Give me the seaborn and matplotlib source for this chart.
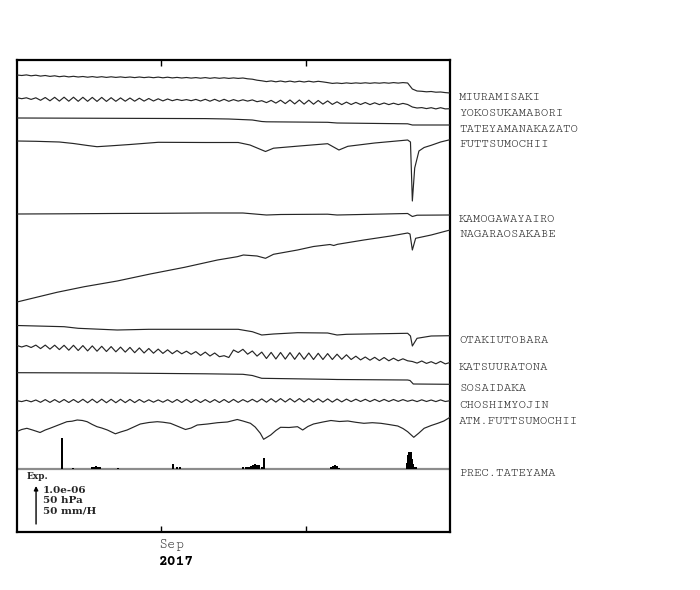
import numpy as np
import pandas as pd
import matplotlib
matplotlib.use("Agg")
import matplotlib.pyplot as plt
import matplotlib.transforms as mtransforms
import seaborn as sns

# time axis: Aug 2 - Oct 31 2017, 93 samples
start = pd.Timestamp("2017-08-02")
end = pd.Timestamp("2017-10-31")
span = (end - start).days
STEP = span / 92.0

# all traces in plot units; BAR units = 1.0e-06 / 50 hPa / 50 mm/H
BAR = 38.0

miuramisaki = [
    0.0, -0.5, 0.1, -0.8, -0.2, -1.1, -0.5, -1.4, -0.8, -1.7,
    -1.1, -1.9, -1.3, -2.0, -1.5, -2.2, -1.6, -2.3, -1.7, -2.4,
    -1.8, -2.4, -1.9, -2.5, -2.0, -2.6, -2.0, -2.6, -2.1, -2.7,
    -2.1, -2.8, -2.2, -2.9, -2.4, -3.0, -2.5, -3.1, -2.6, -3.2,
    -2.6, -3.3, -2.7, -3.3, -2.8, -3.4, -2.9, -3.4, -3.0, -3.8,
    -4.2, -5.2, -5.8, -6.6, -5.9, -6.8, -6.0, -6.9, -6.1, -7.0,
    -6.2, -7.0, -6.2, -7.0, -6.3, -6.9, -7.6, -8.4, -8.0, -8.5,
    -7.9, -8.4, -7.9, -8.3, -7.8, -8.3, -7.8, -8.2, -7.7, -8.2,
    -7.6, -8.1, -7.6, -8.0, -14.0, -16.0, -16.3, -16.8, -16.5, -17.2,
    -17.0, -17.6, -18.0]

yokosukamabori = [
    0.3, -0.7, 0.2, -1.4, 0.2, -2.3, 0.5, -2.8, 0.7, -3.1,
    0.8, -3.2, 0.8, -3.3, 0.7, -3.3, 0.6, -3.4, 0.6, -3.4,
    0.3, -3.3, 0.1, -3.2, 0.0, -3.2, -0.2, -3.1, -0.5, -3.0,
    -0.8, -2.9, -1.0, -2.7, -1.4, -2.5, -1.6, -2.7, -1.4, -3.0,
    -1.3, -3.2, -1.3, -3.3, -1.3, -3.3, -1.6, -3.1, -1.8, -3.1,
    -1.9, -3.7, -2.7, -4.6, -2.4, -5.1, -2.2, -5.6, -2.0, -5.9,
    -2.0, -6.1, -2.2, -6.2, -2.5, -6.1, -2.9, -6.4, -3.8, -6.6,
    -4.1, -6.5, -4.4, -6.5, -4.5, -6.6, -4.8, -6.6, -5.0, -6.6,
    -5.2, -6.6, -5.4, -6.5, -9.0, -10.0, -9.6, -10.6, -9.7, -10.9,
    -9.7, -10.9, -10.7]

tateyama_idx = [0, 20, 40, 45, 50, 52, 53, 66, 68, 83, 84, 92]
tateyama = [0.0, -0.3, -0.6, -1.0, -2.0, -3.5, -3.8, -4.3, -5.0, -5.8, -7.0, -7.0]

futtsu_idx = [0, 4, 9, 12, 15, 17, 20, 24, 30, 40, 47, 49.5, 52.8, 54.5, 60, 66,
              68.4, 70.3, 76, 83, 83.6, 84, 84.5, 85.4, 86.5, 88, 90, 92]
futtsu = [0.0, -0.3, -1.0, -2.5, -4.5, -5.7, -4.8, -3.5, -1.3, -1.5, -1.5, -4.0,
          -10.5, -7.2, -5.0, -2.7, -9.0, -5.3, -2.0, 1.0, -1.0, -60.0, -27.0,
          -10.0, -6.5, -4.3, -1.0, 1.3]

kamo_idx = [0, 10, 20, 30, 40, 48, 50, 53, 56, 66, 68, 75, 83, 84, 85, 92]
kamo = [0.0, 0.2, 0.5, 0.7, 1.0, 1.0, 0.2, -1.0, -0.5, -0.2, -1.0, -0.3, 0.5,
        -2.5, -1.2, -1.0]

nagara_idx = [0, 8.5, 14.3, 21.3, 28.3, 35.6, 42.6, 46.8, 48.1, 51, 52.8, 54.5,
              59.6, 63, 66.5, 67.3, 68.1, 73.7, 79.4, 83, 83.5, 84, 84.7, 88, 92]
nagara = [0.0, 9.7, 15.3, 21.0, 28.0, 34.7, 42.0, 45.3, 47.0, 46.0, 43.7, 47.7,
          52.0, 55.5, 57.5, 56.5, 57.7, 62.0, 66.0, 69.0, 68.0, 52.0, 63.7, 67.0, 72.0]

otaki_idx = [0, 10, 13, 21.3, 28, 47, 50, 52, 54.5, 59.6, 66, 68, 70, 83, 83.6,
             84, 85, 88, 92]
otaki = [0.0, -1.2, -2.8, -4.5, -3.8, -3.8, -6.2, -9.5, -8.5, -7.2, -7.5, -9.5,
         -8.8, -7.8, -10.5, -20.5, -12.8, -10.5, -10.2]

katsuuratona = [
    0.5, -1.0, 0.5, -1.5, 0.9, -2.6, 0.9, -3.1, 0.8, -3.6,
    0.7, -4.2, 0.7, -4.5, 0.4, -4.9, 0.1, -5.2, -0.3, -5.5,
    -0.6, -5.8, -1.1, -6.1, -1.4, -6.7, -1.9, -7.0, -2.5, -7.2,
    -3.1, -7.4, -3.8, -7.7, -4.5, -7.8, -5.2, -8.3, -5.6, -9.4,
    -6.1, -10.0, -7.0, -10.7, -9.7, -11.5, -4.0, -6.5, -3.3, -8.2,
    -5.0, -10.1, -6.1, -12.5, -6.4, -13.0, -6.5, -13.1, -6.6, -13.3,
    -6.8, -13.3, -7.0, -13.5, -7.3, -13.5, -7.6, -13.5, -8.2, -13.3,
    -8.8, -13.5, -10.2, -13.9, -11.0, -14.2, -11.3, -14.6, -11.5, -14.8,
    -12.2, -14.8, -12.8, -14.8, -15.5, -17.1, -15.0, -17.4, -15.7, -17.8,
    -15.4, -17.9, -16.5]

sosaidaka_idx = [0, 20, 40, 48, 50, 52, 66, 68, 83, 83.5, 84.2, 92]
sosaidaka = [0.0, -0.3, -1.1, -1.6, -2.8, -5.6, -6.6, -6.8, -7.3, -7.8, -11.3, -11.6]

choshimyojin = [
    0.3, -0.6, 0.7, -0.8, 1.0, -1.3, 1.4, -1.4, 1.4, -1.4,
    1.5, -1.5, 1.5, -1.5, 1.7, -1.7, 1.8, -1.7, 1.8, -1.7,
    1.7, -1.7, 1.7, -1.6, 1.6, -1.6, 1.5, -1.3, 1.2, -1.2,
    1.1, -1.2, 1.3, -1.4, 1.5, -1.5, 1.6, -1.5, 1.5, -1.5,
    1.4, -1.4, 1.4, -1.5, 1.5, -1.5, 1.6, -1.4, 1.4, -1.0,
    1.7, -1.0, 2.1, -1.2, 2.3, -1.1, 2.4, -1.0, 2.4, -1.0,
    2.4, -1.0, 2.3, -1.0, 2.2, -1.1, 2.1, -1.1, 2.0, -0.9,
    1.9, -0.6, 1.8, -0.5, 1.7, -0.6, 1.6, -0.6, 1.6, -0.5,
    1.5, -0.4, 1.4, -0.3, 1.0, -0.6, 1.2, -0.5, 1.0, -0.6,
    1.1, -0.5, 0.3]

atm_idx = [0, 1, 2.1, 3.3, 4.9, 6, 7, 8.8, 10.6, 11.7, 12.8, 13.9, 14.9, 16, 17,
           18, 19.2, 20.9, 22, 23.4, 24.8, 26.2, 28, 29.8, 31, 32.6, 34, 35.8, 37,
           38.3, 40.5, 42.6, 44.7, 46.8, 48, 49.6, 50.6, 51.7, 52.4, 53.9, 55, 56,
           57.8, 59.6, 60.7, 61.8, 63, 65, 66.7, 68.5, 70.3, 72, 73.7, 75.5, 77.3,
           79, 80.9, 82, 83, 84.3, 85.4, 86.5, 88, 89.4, 90.7, 92]
atm = [0.0, 2.0, 3.2, 1.5, -1.0, 1.5, 3.2, 6.5, 9.8, 10.3, 11.5, 11.0, 9.8, 7.0,
       4.8, 3.5, 1.5, -2.3, -0.5, 1.5, 4.5, 7.5, 9.0, 9.8, 9.3, 8.2, 5.5, 2.0, 3.5,
       6.5, 7.5, 8.8, 9.5, 12.0, 10.5, 8.2, 4.5, -1.8, -7.8, -3.5, 1.0, 4.2, 4.0,
       4.8, 1.5, 5.0, 7.5, 9.5, 11.0, 10.0, 10.5, 9.2, 8.2, 8.8, 8.2, 7.0, 5.5,
       3.0, -0.2, -5.8, -1.5, 3.2, 6.0, 8.2, 10.5, 14.2]

# hourly precipitation (mm/H)
prec_idx = [9.5, 11.9, 16.0, 16.4, 16.8, 17.2, 17.7, 21.5, 33.2, 33.9, 34.7,
            48.1, 48.6, 49.0, 49.4, 49.8, 50.2, 50.5, 50.9, 51.3, 51.5, 52.0, 52.4,
            66.7, 67.1, 67.5, 67.9, 68.4,
            82.8, 83.1, 83.3, 83.5, 83.7, 83.9, 84.1, 84.3, 84.8]
prec_mm = [40.8, 1.3, 2.6, 2.0, 3.9, 2.6, 2.6, 1.3, 6.6, 2.6, 2.6,
           2.0, 2.6, 2.6, 2.6, 3.9, 5.3, 6.6, 5.3, 3.9, 5.3, 2.6, 15.1,
           2.6, 3.9, 5.3, 3.9, 1.3,
           7.9, 18.4, 22.4, 17.1, 22.4, 13.2, 6.6, 2.6, 2.6]

stations = [
    ("MIURAMISAKI", None, miuramisaki, 457.0),
    ("YOKOSUKAMABORI", None, yokosukamabori, 434.0),
    ("TATEYAMANAKAZATO", tateyama_idx, tateyama, 414.0),
    ("FUTTSUMOCHII", futtsu_idx, futtsu, 391.0),
    ("KAMOGAWAYAIRO", kamo_idx, kamo, 318.0),
    ("NAGARAOSAKABE", nagara_idx, nagara, 230.0),
    ("OTAKIUTOBARA", otaki_idx, otaki, 206.5),
    ("KATSUURATONA", None, katsuuratona, 186.0),
    ("SOSAIDAKA", sosaidaka_idx, sosaidaka, 159.3),
    ("CHOSHIMYOJIN", None, choshimyojin, 131.0),
    ("ATM.FUTTSUMOCHII", atm_idx, atm, 100.5),
]
prec_base = 63.0

frames = []
for name, idx, vals, base in stations:
    if idx is None:
        idx = np.arange(len(vals))
    frames.append(pd.DataFrame({"t": np.asarray(idx, float) * STEP,
                                "y": base + np.asarray(vals, float),
                                "station": name}))
df = pd.concat(frames, ignore_index=True)

sns.set_style("white")
MONO = ["Nimbus Mono PS", "Courier New", "Courier", "Cutive Mono",
        "Courier Prime", "Liberation Mono", "DejaVu Sans"]
MONO_BOLD = ["Nimbus Mono PS", "Courier New", "Courier", "Courier Prime",
             "Liberation Mono", "DejaVu Sans"]
plt.rcParams["font.family"] = MONO

fig = plt.figure(figsize=(7, 5.9), dpi=100)
ax = fig.add_axes([17 / 700, 58 / 590, 433 / 700, 472 / 590])

ax.axhline(prec_base, color="#8c8c8c", lw=1.6, zorder=1)
ax.bar(np.asarray(prec_idx) * STEP, np.asarray(prec_mm) * BAR / 50.0,
       bottom=prec_base, width=0.42, color="black", edgecolor="none",
       linewidth=0, zorder=2)

sns.lineplot(data=df, x="t", y="y", units="station", estimator=None, sort=False,
             color="#262626", linewidth=0.85, ax=ax, legend=False, zorder=3)

ax.set_xlim(0, span)
ax.set_ylim(0, 472)
ax.set_xlabel("")
ax.set_ylabel("")
ax.set_yticks([])
sep1 = (pd.Timestamp("2017-09-01") - start).days
oct1 = (pd.Timestamp("2017-10-01") - start).days
ax.set_xticks([sep1, oct1])
ax.set_xticklabels([])
ax.tick_params(axis="x", direction="in", length=4, width=1, top=True,
               bottom=True, labelbottom=False, color="black")
for s in ax.spines.values():
    s.set_visible(True)
    s.set_linewidth(1.6)
    s.set_color("black")

# station labels at right
ytr = ax.get_yaxis_transform()
for name, idx, vals, base in stations:
    ax.text(1.021, base + vals[-1] - 7, name, transform=ytr, ha="left",
            va="baseline", fontsize=8.8, color="#2a2a2a", clip_on=False)
ax.text(1.021, prec_base - 7, "PREC.TATEYAMA", transform=ytr, ha="left",
        va="baseline", fontsize=8.8, color="#2a2a2a", clip_on=False)

# scale legend
ax.annotate("", xy=(3.96, 8 + BAR), xytext=(3.96, 8),
            arrowprops=dict(arrowstyle="-|>", lw=1.0, color="black",
                            mutation_scale=6, shrinkA=0, shrinkB=0))
leg = dict(fontfamily="DejaVu Serif", fontweight="bold", ha="left", va="baseline")
ax.text(2.0, 53, "Exp.", fontsize=6.5, **leg)
ax.text(5.4, 39, "1.0e-06", fontsize=7.5, **leg)
ax.text(5.4, 29, "50 hPa", fontsize=7.5, **leg)
ax.text(5.4, 19, "50 mm/H", fontsize=7.5, **leg)

xtr = mtransforms.blended_transform_factory(ax.transData, ax.transAxes)
ax.text(sep1 - 0.6, -0.028, "Sep", transform=xtr, ha="left", va="center",
        fontsize=10.5, color="#333333", clip_on=False)
ax.text(sep1 - 0.6, -0.062, "2017", transform=xtr, ha="left", va="center",
        fontsize=10.5, fontweight="bold", fontfamily=MONO_BOLD, color="black",
        clip_on=False)

fig.savefig("out.png", dpi=100, facecolor="white")
